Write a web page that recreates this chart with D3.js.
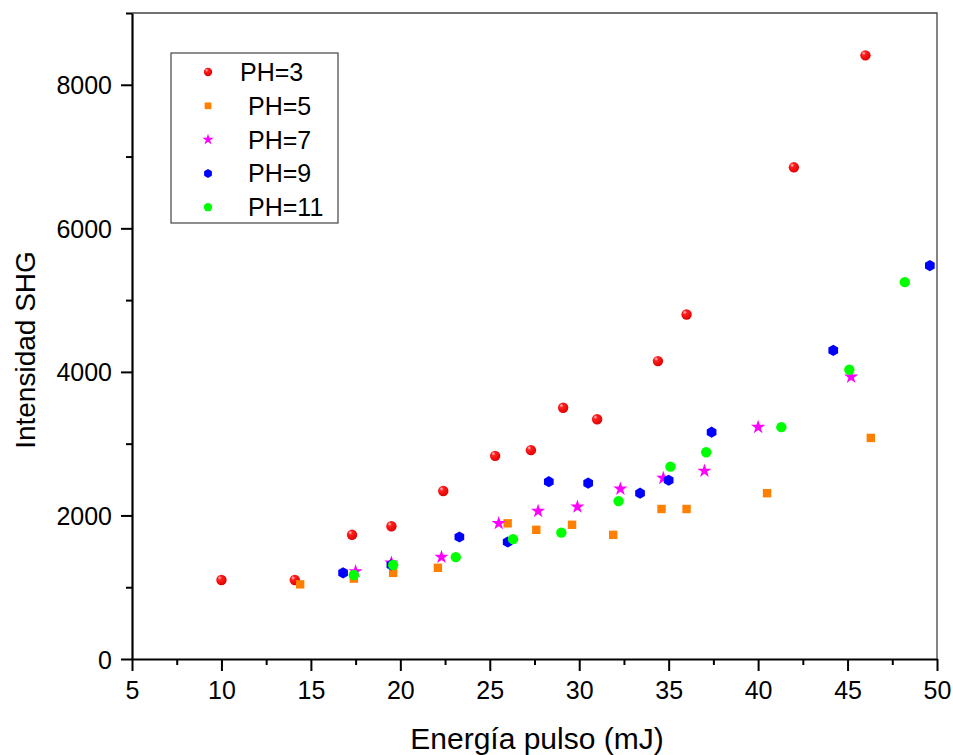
<!DOCTYPE html>
<html>
<head>
<meta charset="utf-8">
<script src="https://cdn.jsdelivr.net/npm/d3@7"></script>
<style>
    body { margin: 0; background: #ffffff; }
    .chart text { font-family: "Liberation Sans", Arial, sans-serif; fill: #000; }
</style>
</head>
<body>
<div class="chart"></div>
<script>
"use strict";

// data
var seriesNames = ["PH=3", "PH=5", "PH=7", "PH=9", "PH=11"];
var seriesColors = ["#ff0000", "#ff8000", "#ff00ff", "#0000ff", "#00ff00"];
var seriesShapes = ["ball", "square", "star", "hexagon", "circle"];

var ph3X = [10, 14.1, 17.3, 19.5, 22.4, 25.3, 27.3, 29.1, 31, 34.4, 36, 42, 46];
var ph3Y = [1100, 1100, 1730, 1850, 2340, 2830, 2910, 3500, 3340, 4150, 4800, 6850, 8410];

var ph5X = [14.4, 17.4, 19.6, 22.1, 26, 27.6, 29.6, 31.9, 34.6, 36, 40.5, 46.3];
var ph5Y = [1040, 1120, 1200, 1270, 1890, 1800, 1870, 1730, 2090, 2090, 2310, 3080];

var ph7X = [17.5, 19.5, 22.3, 25.5, 27.7, 29.9, 32.3, 34.7, 37, 40, 45.2];
var ph7Y = [1220, 1340, 1420, 1890, 2060, 2120, 2370, 2520, 2620, 3230, 3930];

var ph9X = [16.8, 19.5, 23.3, 26, 28.3, 30.5, 33.4, 35, 37.4, 44.2, 49.6];
var ph9Y = [1200, 1310, 1700, 1630, 2470, 2450, 2310, 2490, 3160, 4300, 5480];

var ph11X = [17.4, 19.6, 23.1, 26.3, 29, 32.2, 35.1, 37.1, 41.3, 45.1, 48.2];
var ph11Y = [1170, 1310, 1420, 1670, 1760, 2200, 2680, 2880, 3230, 4030, 5250];

var xTicks = [5, 10, 15, 20, 25, 30, 35, 40, 45, 50];
var yTicks = [0, 2000, 4000, 6000, 8000];

var xLabel = "Energía pulso (mJ)";
var yLabel = "Intensidad SHG";

var allX = [ph3X, ph5X, ph7X, ph9X, ph11X];
var allY = [ph3Y, ph5Y, ph7Y, ph9Y, ph11Y];

// svg properties
var width = 953, height = 755;
var margin = { top: 13, left: 132, bottom: 96, right: 16 };

var svg = d3.select(".chart").append("svg")
            .attr("width", width)
            .attr("height", height);

var defs = svg.append("defs");
var grad = defs.append("radialGradient")
               .attr("id", "ballGrad")
               .attr("cx", "0.38").attr("cy", "0.35").attr("r", "0.65")
               .attr("fx", "0.32").attr("fy", "0.28");
grad.append("stop").attr("offset", "0").attr("stop-color", "#ffd0d0");
grad.append("stop").attr("offset", "0.3").attr("stop-color", "#ff2020");
grad.append("stop").attr("offset", "1").attr("stop-color", "#e00000");

var x = d3.scaleLinear()
          .domain([5, 50])
          .range([margin.left, width - margin.right]);

var y = d3.scaleLinear()
          .domain([0, 9000])
          .range([height - margin.bottom, margin.top]);

// frame (top + right)
svg.append("path")
   .attr("d", "M" + margin.left + "," + y(9000) + "H" + x(50) + "V" + y(0))
   .attr("fill", "none")
   .attr("stroke", "#444")
   .attr("stroke-width", 1.3);

// minor ticks
var xMinor = xTicks.slice(0, -1).map(function(d) { return d + 2.5; });
var yMinor = yTicks.map(function(d) { return d + 1000; });

var xAxis = svg.append("g")
               .attr("transform", "translate(0," + y(0) + ")")
               .call(d3.axisBottom(x).tickValues(xTicks).tickSize(12).tickSizeOuter(0).tickPadding(10));
xAxis.append("g")
     .call(d3.axisBottom(x).tickValues(xMinor).tickSize(6).tickSizeOuter(0).tickFormat(""))
     .select(".domain").remove();

var yAxis = svg.append("g")
               .attr("transform", "translate(" + x(5) + ",0)")
               .call(d3.axisLeft(y).tickValues(yTicks).tickFormat(d3.format("d"))
                       .tickSize(11).tickSizeOuter(0).tickPadding(9));
yAxis.append("g")
     .call(d3.axisLeft(y).tickValues(yMinor).tickSize(6).tickSizeOuter(0).tickFormat(""))
     .select(".domain").remove();

svg.selectAll(".domain").attr("stroke", "#000").attr("stroke-width", 2.2);
svg.selectAll(".tick line").attr("stroke", "#000").attr("stroke-width", 2);
svg.selectAll(".tick text").attr("font-size", "25px").attr("fill", "#000")
   .style("font-family", "'Liberation Sans', Arial, sans-serif");
yAxis.selectAll(".tick text").attr("dy", "0.36em");

// axis titles
svg.append("text")
   .attr("x", 537)
   .attr("y", 749)
   .attr("text-anchor", "middle")
   .attr("font-size", "30px")
   .text(xLabel);

svg.append("text")
   .attr("transform", "translate(35," + 350 + ") rotate(-90)")
   .attr("text-anchor", "middle")
   .attr("font-size", "28px")
   .text(yLabel);

// marker drawing
var hexPath = function(r)
{
    var pts = [];
    for (var i = 0; i < 6; i++)
    {
        var a = Math.PI / 3 * i + Math.PI / 6;
        pts.push([r * Math.cos(a), r * Math.sin(a)]);
    }
    return "M" + pts.join("L") + "Z";
};

var drawMarker = function(g, shape, color, s)
{
    if (shape == "ball")
        g.append("circle").attr("r", 5.2 * s).attr("fill", "url(#ballGrad)");
    else if (shape == "square")
        g.append("rect").attr("x", -4.2 * s).attr("y", -4.2 * s)
         .attr("width", 8.4 * s).attr("height", 8.4 * s).attr("fill", color);
    else if (shape == "star")
        g.append("path").attr("d", d3.symbol().type(d3.symbolStar).size(62 * s * s)).attr("fill", color);
    else if (shape == "hexagon")
        g.append("path").attr("d", hexPath(5.6 * s)).attr("fill", color);
    else
        g.append("circle").attr("r", 5.2 * s).attr("fill", color);
};

for (var k = 0; k < seriesNames.length; k++)
{
    var pts = allX[k].map(function(d, i) { return [d, allY[k][i]]; });
    var grp = svg.append("g").attr("class", "series");
    grp.selectAll("g")
       .data(pts)
       .enter()
       .append("g")
       .attr("transform", function(d) { return "translate(" + x(d[0]) + "," + y(d[1]) + ")"; })
       .each(function() { drawMarker(d3.select(this), seriesShapes[k], seriesColors[k], 1); });
}

// legend
var legend = svg.append("g");
legend.append("rect")
      .attr("x", 171).attr("y", 53)
      .attr("width", 167).attr("height", 170)
      .attr("fill", "#fff")
      .attr("stroke", "#444")
      .attr("stroke-width", 1.2);

var legendText = [240, 248, 248, 248, 248];
seriesNames.forEach(function(name, i)
{
    var ly = 72 + i * 33.8;
    var m = legend.append("g").attr("transform", "translate(208," + ly + ")");
    drawMarker(m, seriesShapes[i], seriesColors[i], 0.8);
    legend.append("text")
          .attr("x", legendText[i])
          .attr("y", ly)
          .attr("dy", "0.36em")
          .attr("font-size", "25px")
          .text(name);
});
</script>
</body>
</html>
